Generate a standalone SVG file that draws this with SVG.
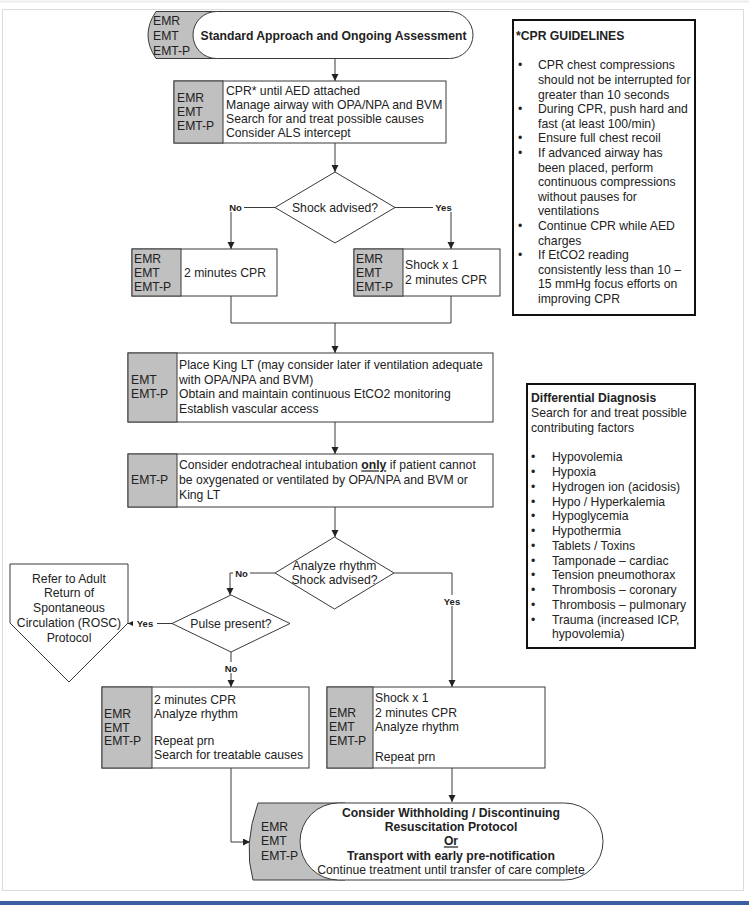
<svg xmlns="http://www.w3.org/2000/svg" width="749" height="905" viewBox="0 0 749 905">
<style>
.t{font-family:"Liberation Sans",Arial,sans-serif;font-size:12.2px;fill:#222}
.b{font-weight:bold}
.c{text-anchor:middle}
.lbl{font-family:"Liberation Sans",Arial,sans-serif;font-size:9.5px;font-weight:bold;fill:#222;text-anchor:middle}
.box{fill:#fff;stroke:#3a3a3a;stroke-width:1}
.gray{fill:#c0c0c0;stroke:#3a3a3a;stroke-width:1}
.ln{fill:none;stroke:#3a3a3a;stroke-width:1}
.bg{fill:#fff}
.note{fill:#fff;stroke:#111;stroke-width:2}
</style>
<defs>
<marker id="arr" markerUnits="userSpaceOnUse" markerWidth="8" markerHeight="8" refX="7" refY="3.5" orient="auto">
<path d="M0,0 L7,3.5 L0,7 Z" fill="#222"/>
</marker>
</defs>
<rect x="0" y="0" width="749" height="905" fill="#fff"/>
<line x1="0" y1="1.5" x2="749" y2="1.5" stroke="#ececec" stroke-width="2"/>
<rect x="2.5" y="9.5" width="741" height="881" fill="none" stroke="#dcdcdc"/>
<rect x="0" y="901" width="749" height="4" fill="#3b5fa0"/>

<g id="connectors">
<path class="ln" d="M335 58.5 V81" marker-end="url(#arr)"/>
<path class="ln" d="M335 143 V172" marker-end="url(#arr)"/>
<path class="ln" d="M275 207.5 H231 V249" marker-end="url(#arr)"/>
<path class="ln" d="M395 207.5 H451 V249" marker-end="url(#arr)"/>
<path class="ln" d="M231 296 V323 H451 V296"/>
<path class="ln" d="M335 323 V353" marker-end="url(#arr)"/>
<path class="ln" d="M335 422 V454" marker-end="url(#arr)"/>
<path class="ln" d="M335 507 V537" marker-end="url(#arr)"/>
<path class="ln" d="M275 573 H230 V595" marker-end="url(#arr)"/>
<path class="ln" d="M394 573 H452 V687" marker-end="url(#arr)"/>
<path class="ln" d="M172 623.5 H128" marker-end="url(#arr)"/>
<path class="ln" d="M231 652 V687" marker-end="url(#arr)"/>
<path class="ln" d="M452 768 V802" marker-end="url(#arr)"/>
<path class="ln" d="M231 768 V842 H250" marker-end="url(#arr)"/>
<rect class="bg" x="227" y="201" width="17" height="11"/>
<text class="lbl" x="235.5" y="210.5">No</text>
<rect class="bg" x="433" y="201" width="21" height="11"/>
<text class="lbl" x="443.5" y="210.5">Yes</text>
<rect class="bg" x="233" y="567" width="17" height="11"/>
<text class="lbl" x="241.5" y="576.5">No</text>
<rect class="bg" x="441" y="595" width="22" height="11"/>
<text class="lbl" x="452" y="604.5">Yes</text>
<rect class="bg" x="133" y="618" width="24" height="11"/>
<text class="lbl" x="145" y="627">Yes</text>
<rect class="bg" x="222" y="662" width="18" height="11"/>
<text class="lbl" x="231" y="671.5">No</text>
</g>

<g id="start">
<path class="gray" d="M240 11.5 H156 Q140 35 156 58.5 H240 Z"/>
<rect class="box" x="193" y="11.5" width="280" height="47" rx="23.5"/>
<text class="t" x="153" y="25">EMR</text>
<text class="t" x="153" y="39.5">EMT</text>
<text class="t" x="153" y="54.5">EMT-P</text>
<text class="t b c" x="333.5" y="40">Standard Approach and Ongoing Assessment</text>
</g>

<g id="cpr-aed">
<rect class="box" x="174" y="81" width="272" height="62"/>
<rect class="gray" x="174" y="81" width="49" height="62"/>
<text class="t" x="177" y="102.4">EMR</text>
<text class="t" x="177" y="116.2">EMT</text>
<text class="t" x="177" y="130">EMT-P</text>
<text class="t" x="226" y="94.5">CPR* until AED attached</text>
<text class="t" x="226" y="108.7">Manage airway with OPA/NPA and BVM</text>
<text class="t" x="226" y="122.9">Search for and treat possible causes</text>
<text class="t" x="226" y="137.1">Consider ALS intercept</text>
</g>

<g id="shock-advised">
<polygon class="box" points="335,172 395,207.5 335,243 275,207.5"/>
<text class="t c" x="335" y="212">Shock advised?</text>
</g>

<g id="cpr-2min">
<rect class="box" x="132" y="249" width="145" height="47"/>
<rect class="gray" x="132" y="249" width="49" height="47"/>
<text class="t" x="134" y="262.7">EMR</text>
<text class="t" x="134" y="277">EMT</text>
<text class="t" x="134" y="291">EMT-P</text>
<text class="t" x="184" y="277">2 minutes CPR</text>
</g>

<g id="shock-1">
<rect class="box" x="354" y="249" width="146" height="47"/>
<rect class="gray" x="354" y="249" width="49" height="47"/>
<text class="t" x="356" y="262.7">EMR</text>
<text class="t" x="356" y="277">EMT</text>
<text class="t" x="356" y="291">EMT-P</text>
<text class="t" x="405" y="269.4">Shock x 1</text>
<text class="t" x="405" y="283.7">2 minutes CPR</text>
</g>

<g id="king-lt">
<rect class="box" x="128" y="353" width="365" height="69"/>
<rect class="gray" x="128" y="353" width="49" height="69"/>
<text class="t" x="131" y="383.8">EMT</text>
<text class="t" x="131" y="398.4">EMT-P</text>
<text class="t" x="179" y="369.4">Place King LT (may consider later if ventilation adequate</text>
<text class="t" x="179" y="383.8">with OPA/NPA and BVM)</text>
<text class="t" x="179" y="398.4">Obtain and maintain continuous EtCO2 monitoring</text>
<text class="t" x="179" y="413">Establish vascular access</text>
</g>

<g id="intubation">
<rect class="box" x="128" y="454" width="365" height="53"/>
<rect class="gray" x="128" y="454" width="49" height="53"/>
<text class="t" x="131" y="484.2">EMT-P</text>
<text class="t" x="179" y="469.4">Consider endotracheal intubation <tspan class="b" text-decoration="underline">only</tspan> if patient cannot</text>
<text class="t" x="179" y="484.2">be oxygenated or ventilated by OPA/NPA and BVM or</text>
<text class="t" x="179" y="498.6">King LT</text>
</g>

<g id="analyze-rhythm">
<polygon class="box" points="334.5,537 394,573 334.5,609 275,573"/>
<text class="t c" x="334.5" y="569.5">Analyze rhythm</text>
<text class="t c" x="334.5" y="583.5">Shock advised?</text>
</g>

<g id="pulse-present">
<polygon class="box" points="231,595 290,623.5 231,652 172,623.5"/>
<text class="t c" x="231" y="628">Pulse present?</text>
</g>

<g id="rosc">
<polygon class="box" points="10,564 128,564 128,623 69,682 10,623"/>
<text class="t c" x="69" y="582.7">Refer to Adult</text>
<text class="t c" x="69" y="597.3">Return of</text>
<text class="t c" x="69" y="612">Spontaneous</text>
<text class="t c" x="69" y="627">Circulation (ROSC)</text>
<text class="t c" x="69" y="641.7">Protocol</text>
</g>

<g id="cpr-analyze">
<rect class="box" x="102" y="687" width="207" height="81"/>
<rect class="gray" x="102" y="687" width="50" height="81"/>
<text class="t" x="104" y="717.7">EMR</text>
<text class="t" x="104" y="731.8">EMT</text>
<text class="t" x="104" y="745">EMT-P</text>
<text class="t" x="154" y="703.7">2 minutes CPR</text>
<text class="t" x="154" y="718.4">Analyze rhythm</text>
<text class="t" x="154" y="745">Repeat prn</text>
<text class="t" x="154" y="759.4">Search for treatable causes</text>
</g>

<g id="shock-analyze">
<rect class="box" x="327" y="687" width="218" height="81"/>
<rect class="gray" x="327" y="687" width="46" height="81"/>
<text class="t" x="329" y="716.7">EMR</text>
<text class="t" x="329" y="731">EMT</text>
<text class="t" x="329" y="745">EMT-P</text>
<text class="t" x="375" y="702">Shock x 1</text>
<text class="t" x="375" y="716.7">2 minutes CPR</text>
<text class="t" x="375" y="731">Analyze rhythm</text>
<text class="t" x="375" y="761">Repeat prn</text>
</g>

<g id="end">
<path class="gray" d="M345 803 H258 Q243 845 253 880 H345 Z"/>
<rect class="box" x="300" y="803" width="303" height="77" rx="38.5"/>
<text class="t" x="261" y="831">EMR</text>
<text class="t" x="261" y="845.4">EMT</text>
<text class="t" x="261" y="860">EMT-P</text>
<text class="t b c" x="451" y="817">Consider Withholding / Discontinuing</text>
<text class="t b c" x="451" y="831">Resuscitation Protocol</text>
<text class="t b c" x="451" y="845.4" text-decoration="underline">Or</text>
<text class="t b c" x="451" y="860">Transport with early pre-notification</text>
<text class="t c" x="451" y="873.7">Continue treatment until transfer of care complete</text>
</g>

<g id="cpr-guidelines">
<rect class="note" x="513" y="20" width="182" height="295"/>
<text class="t b" x="516" y="39.5">*CPR GUIDELINES</text>
<text class="t" x="518" y="69.4">•</text><text class="t" x="538" y="69.4">CPR chest compressions</text>
<text class="t" x="538" y="84">should not be interrupted for</text>
<text class="t" x="538" y="98.6">greater than 10 seconds</text>
<text class="t" x="518" y="113.2">•</text><text class="t" x="538" y="113.2">During CPR, push hard and</text>
<text class="t" x="538" y="127.8">fast (at least 100/min)</text>
<text class="t" x="518" y="142.4">•</text><text class="t" x="538" y="142.4">Ensure full chest recoil</text>
<text class="t" x="518" y="157">•</text><text class="t" x="538" y="157">If advanced airway has</text>
<text class="t" x="538" y="171.6">been placed, perform</text>
<text class="t" x="538" y="186.2">continuous compressions</text>
<text class="t" x="538" y="200.8">without pauses for</text>
<text class="t" x="538" y="215.4">ventilations</text>
<text class="t" x="518" y="230">•</text><text class="t" x="538" y="230">Continue CPR while AED</text>
<text class="t" x="538" y="244.6">charges</text>
<text class="t" x="518" y="259.2">•</text><text class="t" x="538" y="259.2">If EtCO2 reading</text>
<text class="t" x="538" y="273.8">consistently less than 10 –</text>
<text class="t" x="538" y="288.4">15 mmHg focus efforts on</text>
<text class="t" x="538" y="303">improving CPR</text>
</g>

<g id="differential-diagnosis">
<rect class="note" x="527" y="384" width="168" height="264" stroke-width="2.5"/>
<text class="t b" x="531" y="402.4">Differential Diagnosis</text>
<text class="t" x="531" y="417.4">Search for and treat possible</text>
<text class="t" x="531" y="432.4">contributing factors</text>
<text class="t" x="531" y="461.4">•</text><text class="t" x="552" y="461.4">Hypovolemia</text>
<text class="t" x="531" y="476.2">•</text><text class="t" x="552" y="476.2">Hypoxia</text>
<text class="t" x="531" y="490.9">•</text><text class="t" x="552" y="490.9">Hydrogen ion (acidosis)</text>
<text class="t" x="531" y="505.7">•</text><text class="t" x="552" y="505.7">Hypo / Hyperkalemia</text>
<text class="t" x="531" y="520.4">•</text><text class="t" x="552" y="520.4">Hypoglycemia</text>
<text class="t" x="531" y="535.2">•</text><text class="t" x="552" y="535.2">Hypothermia</text>
<text class="t" x="531" y="549.9">•</text><text class="t" x="552" y="549.9">Tablets / Toxins</text>
<text class="t" x="531" y="564.7">•</text><text class="t" x="552" y="564.7">Tamponade – cardiac</text>
<text class="t" x="531" y="579.4">•</text><text class="t" x="552" y="579.4">Tension pneumothorax</text>
<text class="t" x="531" y="594.2">•</text><text class="t" x="552" y="594.2">Thrombosis – coronary</text>
<text class="t" x="531" y="608.9">•</text><text class="t" x="552" y="608.9">Thrombosis – pulmonary</text>
<text class="t" x="531" y="623.7">•</text><text class="t" x="552" y="623.7">Trauma (increased ICP,</text>
<text class="t" x="552" y="638.4">hypovolemia)</text>
</g>
</svg>
